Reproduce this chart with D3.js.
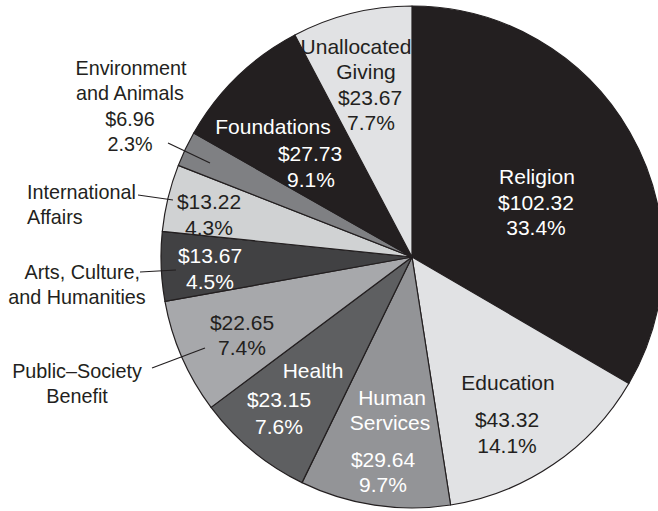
<!DOCTYPE html>
<html>
<head>
<meta charset="utf-8">
<script src="https://cdn.jsdelivr.net/npm/d3@7"></script>
<style>
  body { margin: 0; background: #fff; }
  svg { display: block; }
  text { font-family: "Liberation Sans", Arial, Helvetica, sans-serif; }
  .inside { font-size: 21px; }
  .outside { font-size: 19.8px; }
</style>
</head>
<body>
<div id="vis"></div>
<script>
// data, clockwise from 12 o'clock
var categories = ["Religion", "Education", "Human Services", "Health", "Public-Society Benefit",
  "Arts, Culture, and Humanities", "International Affairs", "Environment and Animals",
  "Foundations", "Unallocated Giving"];
var amounts = [102.32, 43.32, 29.64, 23.15, 22.65, 13.67, 13.22, 6.96, 27.73, 23.67];
var percents = ["33.4%", "14.1%", "9.7%", "7.6%", "7.4%", "4.5%", "4.3%", "2.3%", "9.1%", "7.7%"];
var fills = ["#231f20", "#e1e2e4", "#939497", "#5e5f61", "#a7a8ab",
  "#414143", "#d0d2d3", "#7f8083", "#231f20", "#e1e2e4"];

var width = 658, height = 511;
var cx = 412, cy = 257, radius = 251;

var svg = d3.select("#vis").append("svg")
  .attr("width", width)
  .attr("height", height);

var g = svg.append("g")
  .attr("transform", "translate(" + cx + "," + cy + ")");

var pie = d3.pie().sort(null).value(function(d) { return d; });
var arc = d3.arc().innerRadius(0).outerRadius(radius);

var arcs = pie(amounts);

g.selectAll("path.slice")
  .data(arcs)
  .enter().append("path")
  .attr("class", "slice")
  .attr("d", arc)
  .attr("fill", function(d, i) { return fills[i]; })
  .attr("stroke", "#231f20")
  .attr("stroke-width", 1.2)
  .attr("stroke-linejoin", "round");

var money = function(i) { return "$" + amounts[i].toFixed(2); };

// label layout inside the slices (page coords)
var labels = [
  { color: "#fff", lines: [["Religion", 537, 177], [money(0), 536, 203], [percents[0], 536, 228]] },
  { color: "#231f20", lines: [["Education", 508, 383], [money(1), 507, 420], [percents[1], 507, 446]] },
  { color: "#fff", lines: [["Human", 392, 398], ["Services", 390, 423], [money(2), 383, 460], [percents[2], 383, 485]] },
  { color: "#fff", lines: [["Health", 313, 371], [money(3), 279, 400], [percents[3], 279, 427]] },
  { color: "#231f20", lines: [[money(4), 242, 323], [percents[4], 242, 348]] },
  { color: "#fff", lines: [[money(5), 210, 256], [percents[5], 210, 282]] },
  { color: "#231f20", lines: [[money(6), 209, 202], [percents[6], 209, 228]] },
  { color: "#fff", lines: [["Foundations", 273, 127], [money(8), 310, 154], [percents[8], 311, 180]] },
  { color: "#231f20", lines: [["Unallocated", 356, 47], ["Giving", 366, 72], [money(9), 370, 98], [percents[9], 371, 123]] }
];

// labels outside the pie
var outside = [
  { anchor: "middle", lines: [["Environment", 131, 68], ["and Animals", 130, 93], [money(7), 130, 119], [percents[7], 130, 144]] },
  { anchor: "start", lines: [["International", 27, 192], ["Affairs", 27, 217]] },
  { anchor: "end", lines: [["Arts, Culture,", 140, 272]] },
  { anchor: "middle", lines: [["and Humanities", 77, 297]] },
  { anchor: "middle", lines: [["Public\u2013Society", 77, 371], ["Benefit", 77, 396]] }
];

var leaders = [
  [[168, 143], [210, 163]],
  [[138, 195], [173, 200]],
  [[140, 272], [176, 270]],
  [[152, 368], [205, 348]]
];

labels.forEach(function(l) {
  l.lines.forEach(function(t) {
    svg.append("text")
      .attr("class", "inside")
      .attr("x", t[1])
      .attr("y", t[2])
      .attr("dy", "0.35em")
      .attr("text-anchor", "middle")
      .attr("fill", l.color)
      .text(t[0]);
  });
});

outside.forEach(function(l) {
  l.lines.forEach(function(t) {
    svg.append("text")
      .attr("class", "outside")
      .attr("x", t[1])
      .attr("y", t[2])
      .attr("dy", "0.35em")
      .attr("text-anchor", l.anchor)
      .attr("fill", "#231f20")
      .text(t[0]);
  });
});

svg.selectAll("line.leader")
  .data(leaders)
  .enter().append("line")
  .attr("class", "leader")
  .attr("x1", function(d) { return d[0][0]; })
  .attr("y1", function(d) { return d[0][1]; })
  .attr("x2", function(d) { return d[1][0]; })
  .attr("y2", function(d) { return d[1][1]; })
  .attr("stroke", "#231f20")
  .attr("stroke-width", 1.2);
</script>
</body>
</html>
